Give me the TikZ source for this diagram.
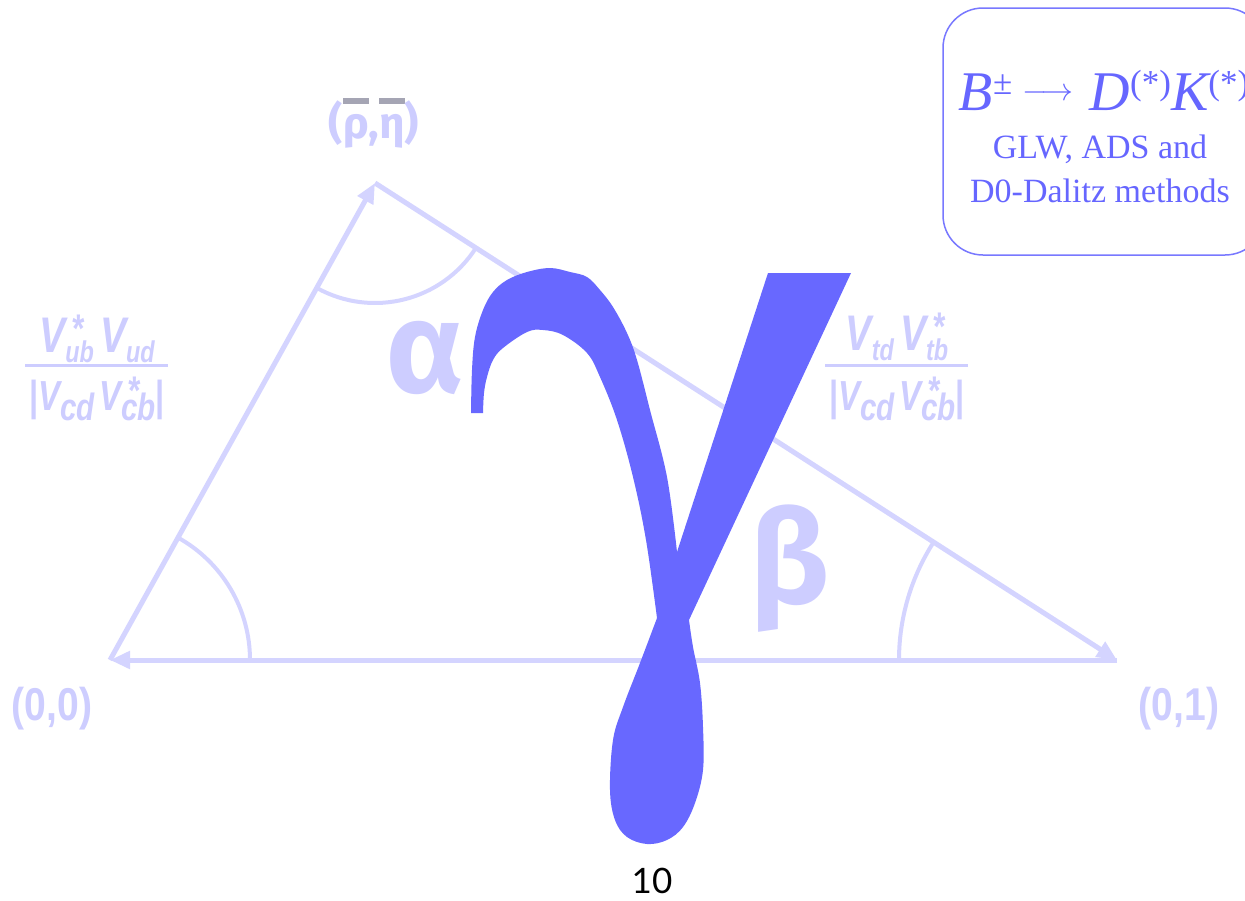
\documentclass[tikz,border=0pt]{standalone}
\usepackage{fontspec}
\usepackage{graphicx}
\usetikzlibrary{arrows.meta}
\setmainfont{Liberation Serif}
\newfontfamily\lsans{Liberation Sans}
\newfontfamily\grk{Fira Sans}
\newfontfamily\lato{Lato}
\definecolor{lav}{RGB}{212,212,255}
\definecolor{lavtext}{RGB}{205,205,255}
\definecolor{gam}{RGB}{104,104,255}
\definecolor{boxtext}{RGB}{102,102,255}
\definecolor{boxline}{RGB}{120,120,255}
\definecolor{barcol}{RGB}{165,165,180}
\newlength\ovbw
\newcommand\ovbar[1]{\settowidth\ovbw{#1}\makebox[0pt][l]{\raisebox{0.78em}{\textcolor{barcol}{\rule{\ovbw}{0.12em}}}}#1}
\newcommand\sbs[2]{{\fontsize{#1}{#1}\selectfont\raisebox{-10pt}{#2}}}
\newcommand\stA[2]{\makebox[0pt][l]{\hspace{#1}\raisebox{#2}{\fontsize{40}{40}\selectfont *}}}
\newcommand\bigsup[1]{\raisebox{16pt}{\fontsize{35}{35}\selectfont\upshape #1}}
\begin{document}
\begin{tikzpicture}[x=1pt,y=-1pt,
  tri/.style={draw=lav, line width=5pt, -{Triangle[length=20pt,width=17pt]}},
  angarc/.style={draw=lav, line width=4pt},
  fracbar/.style={draw=lavtext, line width=3pt},
  lbl/.style={text=lavtext, inner sep=0pt, anchor=base},
  ckm/.style={text=lavtext, inner sep=0pt, anchor=base, font=\lsans\bfseries\itshape},
  grkbig/.style={text=lavtext, inner sep=0pt, font=\grk\bfseries\fontsize{130}{130}\selectfont},
  boxframe/.style={draw=boxline, line width=1.5pt, rounded corners=40pt, minimum width=322pt, minimum height=247pt, inner sep=0pt},
  boxtxt/.style={text=boxtext, inner sep=0pt, anchor=base}]
\useasboundingbox (0,0) rectangle (1245,900);
\fill[white] (0,0) rectangle (1245,900);

% triangle
\coordinate (O) at (110,660);
\coordinate (A) at (375,183);
\coordinate (C) at (1117,660);
\draw[tri] (C) -- (O);
\draw[tri] (O) -- (A);
\draw[tri] (A) -- (C);

% angle arcs
\draw[angarc] ([shift={(0:140)}]O) arc[start angle=0, end angle=-60.95, radius=140];
\draw[angarc] ([shift={(32.7:120)}]A) arc[start angle=32.7, end angle=119.05, radius=120];
\draw[angarc] ([shift={(180:218)}]C) arc[start angle=180, end angle=212.7, radius=218];

% vertex labels
\node[lbl, font=\lsans\bfseries\fontsize{46}{46}\selectfont] (l00) at (52,720) {\scalebox{0.85}[1]{(0,0)}};
\node[lbl, font=\lsans\bfseries\fontsize{46}{46}\selectfont] (l01) at (1179,720) {\scalebox{0.85}[1]{(0,1)}};
\node[lbl, font=\grk\bfseries\fontsize{44}{44}\selectfont] (lre) at (374,138) {(\ovbar{ρ},\ovbar{η})};

% left side fraction
\node[ckm] (ln) at (97,352) {\scalebox{0.78}[1]{\fontsize{50}{50}\selectfont V\stA{8pt}{10pt}\sbs{30}{ub}\hspace{8pt}V\sbs{30}{ud}}};
\coordinate (lb1) at (25,365);
\coordinate (lb2) at (168,365);
\draw[fracbar] (lb1) -- (lb2);
\node[ckm] (ld) at (97,410) {\scalebox{0.78}[1]{\fontsize{42}{42}\selectfont{\upshape|}V\sbs{38}{cd}\hspace{6pt}V\stA{8pt}{6pt}\sbs{38}{cb}{\upshape|}}};

% right side fraction
\node[ckm] (rn) at (897,350) {\scalebox{0.78}[1]{\fontsize{50}{50}\selectfont V\sbs{30}{td}\hspace{8pt}V\stA{8pt}{10pt}\sbs{30}{tb}}};
\coordinate (rb1) at (825,365);
\coordinate (rb2) at (968,365);
\draw[fracbar] (rb1) -- (rb2);
\node[ckm] (rd) at (897,410) {\scalebox{0.78}[1]{\fontsize{42}{42}\selectfont{\upshape|}V\sbs{38}{cd}\hspace{6pt}V\stA{8pt}{6pt}\sbs{38}{cb}{\upshape|}}};

% angle names
\node[grkbig] (alpha) at (425,358) {α};
\node[grkbig] (beta) at (790,569) {β};

% big gamma
\fill[gam] plot[smooth, tension=0.6] coordinates {(471,413) (472,370) (475,337) (483,310) (493,292) (507,280) (527,272) (550,268) (570,272) (587,277) (600,290) (613,307) (627,333) (637,360) (650,410) (667,477) (677,552)}
  -- (768,273) -- (851,273) -- (689,620)
  -- plot[smooth, tension=0.6] coordinates {(689,620) (693,647) (700,683) (703,727) (703,770) (695,803) (683,827) (667,840) (647,844) (627,837) (615,820) (610,790) (613,740) (623,707) (640,663) (657,618)}
  -- plot[smooth, tension=0.6] coordinates {(657,618) (646,540) (633,477) (617,420) (600,377) (587,353) (563,335) (543,330) (527,332) (503,348) (493,360) (487,377) (484,393) (483,413)}
  -- cycle;

% info box
\node[boxframe] (box) at (1104,131.5) {};
\node[boxtxt, font=\fontsize{56}{56}\selectfont] (bt1) at (1104,110) {\itshape B\bigsup{±}\hspace{10pt}\raisebox{10pt}{\fontsize{10}{12}\selectfont\scalebox{3.2}{$\longrightarrow$}}\hspace{16pt}\itshape D\bigsup{(*)}\itshape K\bigsup{(*)}};
\node[boxtxt, font=\fontsize{34}{34}\selectfont] (bt2) at (1100,158) {GLW, ADS and};
\node[boxtxt, font=\fontsize{34}{34}\selectfont] (bt3) at (1100,202) {D0-Dalitz methods};

% page number
\node[inner sep=0pt, anchor=base, font=\lato\fontsize{35}{35}\selectfont] (pg) at (652,893) {10};
\end{tikzpicture}
\end{document}
